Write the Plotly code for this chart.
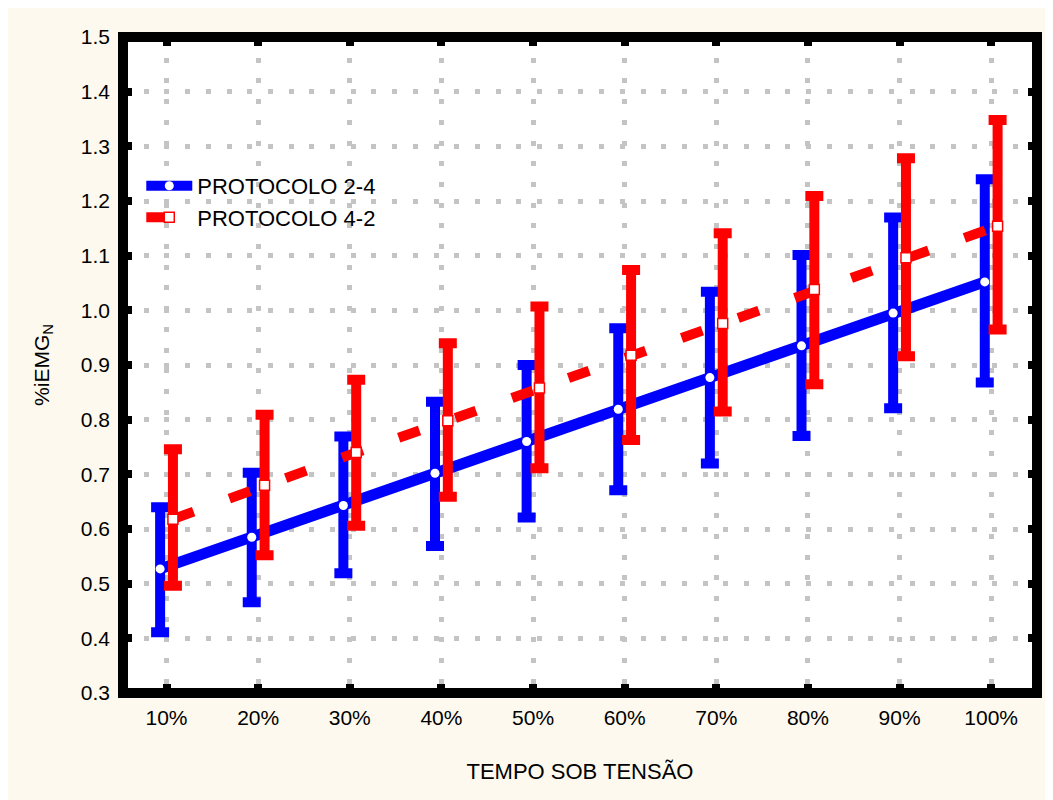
import plotly.graph_objects as go

categories = ["10%", "20%", "30%", "40%", "50%", "60%", "70%", "80%", "90%", "100%"]

p24_mean = [0.527, 0.585, 0.643, 0.702, 0.760, 0.819, 0.877, 0.935, 0.995, 1.052]
p24_upper = [0.640, 0.703, 0.769, 0.833, 0.900, 0.967, 1.034, 1.101, 1.170, 1.240]
p24_lower = [0.411, 0.466, 0.519, 0.569, 0.621, 0.671, 0.720, 0.770, 0.821, 0.868]

p42_mean = [0.618, 0.680, 0.740, 0.798, 0.858, 0.918, 0.976, 1.038, 1.096, 1.154]
p42_upper = [0.746, 0.809, 0.873, 0.940, 1.007, 1.074, 1.141, 1.209, 1.278, 1.348]
p42_lower = [0.496, 0.552, 0.606, 0.659, 0.711, 0.763, 0.815, 0.865, 0.916, 0.965]

offset = 0.07
idx = list(range(len(categories)))
x24 = [i - offset for i in idx]
x42 = [i + offset for i in idx]

BLUE = "#0000FF"
RED = "#FF0000"
GRID = "#C4C4C4"
PAPER = "#FDF9EE"

fig = go.Figure()

fig.add_trace(go.Scatter(
    x=x24, y=p24_mean, mode="lines+markers", name="PROTOCOLO 2-4",
    line=dict(color=BLUE, width=11),
    marker=dict(symbol="circle", size=9, color="white", line=dict(width=0)),
    error_y=dict(type="data", symmetric=False,
                 array=[u - m for u, m in zip(p24_upper, p24_mean)],
                 arrayminus=[m - l for m, l in zip(p24_mean, p24_lower)],
                 color=BLUE, thickness=10, width=9),
))

fig.add_trace(go.Scatter(
    x=x42, y=p42_mean, mode="lines+markers", name="PROTOCOLO 4-2",
    line=dict(color=RED, width=10, dash="22px,38px"),
    marker=dict(symbol="square", size=10, color="white", line=dict(width=1.5, color=RED)),
    error_y=dict(type="data", symmetric=False,
                 array=[u - m for u, m in zip(p42_upper, p42_mean)],
                 arrayminus=[m - l for m, l in zip(p42_mean, p42_lower)],
                 color=RED, thickness=10, width=9),
))

font_main = "Liberation Sans, Arial, sans-serif"

fig.update_layout(
    width=1045, height=792,
    margin=dict(l=115, r=16, t=29, b=107),
    paper_bgcolor=PAPER,
    plot_bgcolor="white",
    font=dict(family=font_main, size=21, color="black"),
    showlegend=True,
    legend=dict(x=0.02, y=0.805, xanchor="left", yanchor="top",
                bgcolor="rgba(0,0,0,0)", font=dict(size=22),
                itemwidth=46, tracegroupgap=0),
    shapes=[dict(type="rect", xref="paper", yref="paper", x0=0, y0=0, x1=1, y1=1,
                 line=dict(color="black", width=10), layer="above")],
)

fig.update_xaxes(
    range=[-0.475, 9.5], tickmode="array", tickvals=idx, ticktext=categories,
    showgrid=True, gridcolor=GRID, gridwidth=5, griddash="5px,15.7px",
    zeroline=False, showline=False,
    ticks="inside", ticklen=9, tickwidth=8, tickcolor="black", mirror="allticks",
    ticklabelstandoff=10, tickfont=dict(size=21),
    title=dict(text="TEMPO SOB TENSÃO", font=dict(size=22), standoff=35),
)

fig.update_yaxes(
    range=[0.3, 1.5], tickmode="linear", tick0=0.3, dtick=0.1, tickformat=".1f",
    showgrid=True, gridcolor=GRID, gridwidth=5, griddash="5px,15.7px",
    zeroline=False, showline=False,
    ticks="inside", ticklen=9, tickwidth=8, tickcolor="black", mirror="allticks",
    ticklabelstandoff=12, tickfont=dict(size=21),
    title=dict(text="%iEMG<sub>N</sub>", font=dict(size=21), standoff=25),
)

fig.write_html("out.html")
